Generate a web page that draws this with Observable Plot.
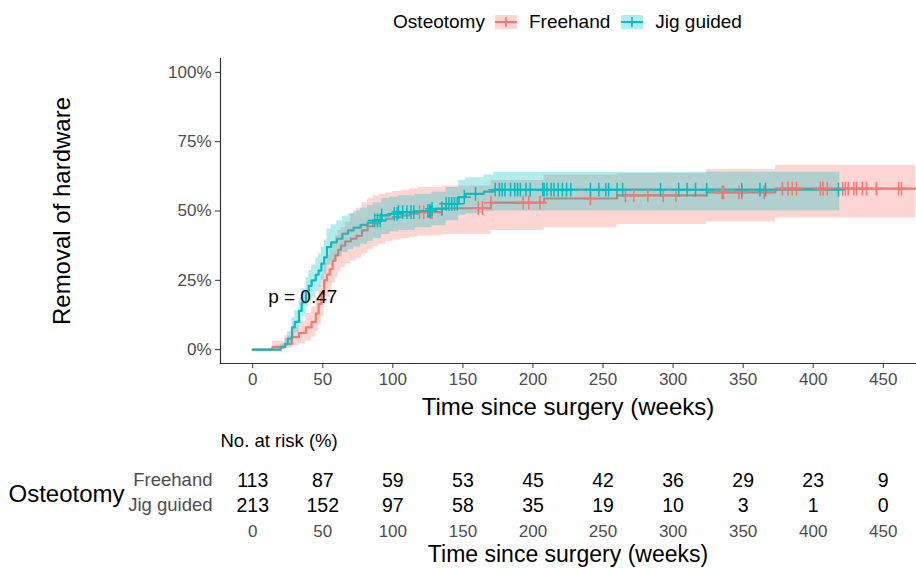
<!DOCTYPE html>
<html>
<head>
<meta charset="utf-8">
<script src="https://cdn.jsdelivr.net/npm/d3@7"></script>
<script src="https://cdn.jsdelivr.net/npm/@observablehq/plot@0.6"></script>
<style>
  html, body { margin: 0; padding: 0; background: white; }
  body { width: 916px; height: 568px; overflow: hidden; font-family: "Liberation Sans", Arial, sans-serif; }
  #legend { height: 38px; margin-left: 220px; width: 695px; display: flex; justify-content: center; align-items: center; font-size: 19px; color: black; }
  #legend .inner { display: flex; align-items: center; transform: translateY(3px); }
  #legend svg { display: block; }
  svg { display: block; }
</style>
</head>
<body>
<div id="legend"></div>
<div id="main"></div>
<div id="risk"></div>
<script>
// ---------- data ----------
const groups = ["Freehand", "Jig guided"];
const colors = ["#F8766D", "#00BFC4"];
const legendTitle = "Osteotomy";

// Freehand cumulative incidence (step times, estimate, lower CI, upper CI)
const fhTime = [0, 14, 23, 28, 33, 38, 42, 45, 47, 49, 51, 53, 55, 57, 59, 61, 63, 66, 70, 74, 78, 82, 86, 90, 95, 100, 106, 112, 118, 135, 170, 208, 260, 324, 373, 473];
const fhEst  = [0, 0.009, 0.02, 0.045, 0.06, 0.08, 0.10, 0.13, 0.165, 0.20, 0.25, 0.27, 0.29, 0.32, 0.34, 0.36, 0.375, 0.39, 0.40, 0.41, 0.43, 0.445, 0.455, 0.465, 0.472, 0.478, 0.484, 0.49, 0.496, 0.51, 0.53, 0.545, 0.556, 0.567, 0.581, 0.581];
const fhLow  = [0, 0, 0.005, 0.015, 0.02, 0.03, 0.045, 0.065, 0.09, 0.12, 0.17, 0.19, 0.21, 0.24, 0.26, 0.28, 0.295, 0.31, 0.32, 0.33, 0.345, 0.36, 0.37, 0.38, 0.39, 0.395, 0.40, 0.405, 0.41, 0.415, 0.43, 0.44, 0.451, 0.46, 0.475, 0.475];
const fhHigh = [0, 0.03, 0.05, 0.08, 0.10, 0.13, 0.155, 0.19, 0.23, 0.27, 0.31, 0.34, 0.36, 0.39, 0.41, 0.43, 0.44, 0.46, 0.49, 0.51, 0.53, 0.545, 0.555, 0.56, 0.565, 0.57, 0.575, 0.58, 0.585, 0.59, 0.61, 0.63, 0.635, 0.649, 0.665, 0.665];
const fhCensor = [119, 122, 127, 128, 135, 161, 164, 170, 193, 197, 205, 241, 266, 272, 282, 293, 302, 335, 336, 347, 349, 365, 378, 382, 385, 388, 405, 407, 410, 421, 423, 425, 429, 431, 435, 438, 445, 461, 463];

// Jig guided
const jgTime = [0, 20, 23, 25, 28, 30, 33, 35, 38, 40, 42, 45, 47, 49, 51, 53, 56, 60, 64, 68, 72, 77, 82, 86, 92, 98, 104, 116, 128, 138, 147, 152, 165, 172, 419];
const jgEst  = [0, 0.01, 0.02, 0.04, 0.08, 0.10, 0.14, 0.17, 0.21, 0.23, 0.25, 0.27, 0.285, 0.31, 0.333, 0.37, 0.387, 0.40, 0.418, 0.43, 0.44, 0.45, 0.458, 0.466, 0.484, 0.49, 0.496, 0.50, 0.508, 0.526, 0.55, 0.562, 0.57, 0.577, 0.577];
const jgLow  = [0, 0, 0.005, 0.015, 0.045, 0.06, 0.095, 0.12, 0.155, 0.175, 0.19, 0.21, 0.225, 0.25, 0.27, 0.305, 0.32, 0.335, 0.35, 0.36, 0.37, 0.38, 0.39, 0.40, 0.415, 0.425, 0.43, 0.44, 0.447, 0.465, 0.485, 0.49, 0.497, 0.50, 0.50];
const jgHigh = [0, 0.02, 0.04, 0.065, 0.115, 0.14, 0.185, 0.22, 0.26, 0.285, 0.305, 0.33, 0.345, 0.37, 0.395, 0.435, 0.45, 0.465, 0.48, 0.49, 0.50, 0.51, 0.52, 0.53, 0.545, 0.55, 0.555, 0.56, 0.568, 0.585, 0.61, 0.62, 0.63, 0.64, 0.64];
const jgCensor = [87, 89, 91, 92, 101, 103, 104, 107, 110, 113, 115, 125, 126, 127, 128, 135, 138, 140, 142, 144, 146, 151, 159, 173, 176, 178, 180, 184, 187, 189, 191, 195, 198, 207, 208, 210, 213, 215, 218, 221, 224, 227, 241, 247, 252, 254, 260, 264, 291, 304, 310, 316, 324, 349, 362, 366, 418];

// Risk table
const riskTimes = [0, 50, 100, 150, 200, 250, 300, 350, 400, 450];
const riskFreehand = [113, 87, 59, 53, 45, 42, 36, 29, 23, 9];
const riskJig = [213, 152, 97, 58, 35, 19, 10, 3, 1, 0];

// Axes and labels
const xDomain = [-23, 473];
const yDomain = [-0.05, 1.05];
const xTicks = [0, 50, 100, 150, 200, 250, 300, 350, 400, 450];
const yTicks = [0, 0.25, 0.5, 0.75, 1];
const xLabel = "Time since surgery (weeks)";
const yLabel = "Removal of hardware";
const riskTitle = "No. at risk (%)";
const pLabel = "p = 0.47";
const pPos = [11, 0.19];

// ---------- build tables ----------
function series(g, T, E, L, H) { return T.map((t, i) => ({g, t, est: E[i], lo: L[i], hi: H[i]})); }
const fh = series(groups[0], fhTime, fhEst, fhLow, fhHigh);
const jg = series(groups[1], jgTime, jgEst, jgLow, jgHigh);
function stepAt(T, V, t) { const i = d3.bisectRight(T, t) - 1; return V[Math.max(0, i)]; }
const fhC = fhCensor.map(t => ({t, est: stepAt(fhTime, fhEst, t)}));
const jgC = jgCensor.map(t => ({t, est: stepAt(jgTime, jgEst, t)}));

const FONT = "'Liberation Sans', Arial, sans-serif";
const GREY = "#4d4d4d";

// ---------- legend ----------
const leg = document.getElementById("legend");
const inner = document.createElement("div");
inner.className = "inner";
const t0 = document.createElement("span");
t0.textContent = legendTitle;
t0.style.marginRight = "10px";
inner.appendChild(t0);
groups.forEach((g, i) => {
  const ns = "http://www.w3.org/2000/svg";
  const s = document.createElementNS(ns, "svg");
  s.setAttribute("width", 22); s.setAttribute("height", 18);
  s.innerHTML = `<rect x="0" y="2" width="22" height="14" fill="${colors[i]}" fill-opacity="0.3"/>
    <line x1="0" x2="22" y1="9" y2="9" stroke="${colors[i]}" stroke-width="2"/>
    <line x1="11" x2="11" y1="4" y2="14" stroke="${colors[i]}" stroke-width="1.6"/>`;
  s.style.marginRight = "12px";
  inner.appendChild(s);
  const sp = document.createElement("span");
  sp.textContent = g;
  if (i === 0) sp.style.marginRight = "11px";
  inner.appendChild(sp);
});
leg.appendChild(inner);

// ---------- main plot ----------
const main = Plot.plot({
  width: 916, height: 382,
  marginTop: 20, marginBottom: 57, marginLeft: 220, marginRight: 1,
  style: {fontFamily: FONT, fontSize: "17px", background: "white", color: "black"},
  x: {domain: xDomain, label: null},
  y: {domain: yDomain, label: null},
  marks: [
    Plot.frame({anchor: "left", stroke: "#333", strokeWidth: 1.2}),
    Plot.frame({anchor: "bottom", stroke: "#333", strokeWidth: 1.2}),
    Plot.axisY({ticks: yTicks, tickFormat: d3.format(".0%"), tickSize: 5, tickPadding: 4, stroke: "#333", fill: GREY, fontSize: 17, label: null}),
    Plot.axisX({ticks: xTicks, tickSize: 5, tickPadding: 4, stroke: "#333", fill: GREY, fontSize: 17, label: null}),
    Plot.line(fh, {x: "t", y: "est", curve: "step-after", stroke: colors[0], strokeWidth: 2.2}),
    Plot.line(jg, {x: "t", y: "est", curve: "step-after", stroke: colors[1], strokeWidth: 2.2}),
    Plot.areaY(fh, {x: "t", y1: "lo", y2: "hi", curve: "step-after", fill: colors[0], fillOpacity: 0.3}),
    Plot.areaY(jg, {x: "t", y1: "lo", y2: "hi", curve: "step-after", fill: colors[1], fillOpacity: 0.3}),
    Plot.dot(fhC, {x: "t", y: "est", symbol: "plus", r: 4.5, stroke: colors[0], strokeWidth: 1.5}),
    Plot.dot(jgC, {x: "t", y: "est", symbol: "plus", r: 4.5, stroke: colors[1], strokeWidth: 1.5}),
    Plot.text([pLabel], {x: pPos[0], y: pPos[1], text: d => d, textAnchor: "start", fontSize: 19, fill: "black"}),
    Plot.text([xLabel], {frameAnchor: "bottom", dy: 44, text: d => d, fontSize: 24, fill: "black", lineAnchor: "middle"}),
    Plot.text([yLabel], {frameAnchor: "left", dx: -158, rotate: -90, textAnchor: "middle", text: d => d, fontSize: 24, fill: "black", lineAnchor: "middle"})
  ]
});
document.getElementById("main").appendChild(main);

// ---------- risk table ----------
const riskRows = [
  ...riskTimes.map((t, i) => ({g: groups[0], t, n: riskFreehand[i]})),
  ...riskTimes.map((t, i) => ({g: groups[1], t, n: riskJig[i]}))
];
const risk = Plot.plot({
  width: 916, height: 148,
  marginTop: 0, marginBottom: 0, marginLeft: 220, marginRight: 1,
  style: {fontFamily: FONT, background: "white", color: "black"},
  x: {domain: xDomain, axis: null},
  y: {type: "point", domain: groups, range: [60, 85], padding: 0, axis: null},
  marks: [
    Plot.text([riskTitle], {frameAnchor: "top-left", dy: 21, textAnchor: "start", lineAnchor: "middle", text: d => d, fontSize: 18.5, fill: "black"}),
    Plot.text(riskRows, {x: "t", y: "g", text: d => String(d.n), fontSize: 19.5, fill: "black", lineAnchor: "middle"}),
    Plot.text(groups, {y: d => d, frameAnchor: "left", dx: -8, textAnchor: "end", text: d => d, fontSize: 18.5, fill: GREY, lineAnchor: "middle"}),
    Plot.text([legendTitle], {frameAnchor: "left", dx: -212, textAnchor: "start", text: d => d, fontSize: 24, fill: "black", lineAnchor: "middle"}),
    Plot.text(xTicks, {x: d => d, frameAnchor: "bottom", dy: -37, text: d => String(d), fontSize: 17, fill: GREY, lineAnchor: "middle"}),
    Plot.text([xLabel], {frameAnchor: "bottom", dy: -14, text: d => d, fontSize: 23, fill: "black", lineAnchor: "middle"})
  ]
});
document.getElementById("risk").appendChild(risk);
</script>
</body>
</html>
